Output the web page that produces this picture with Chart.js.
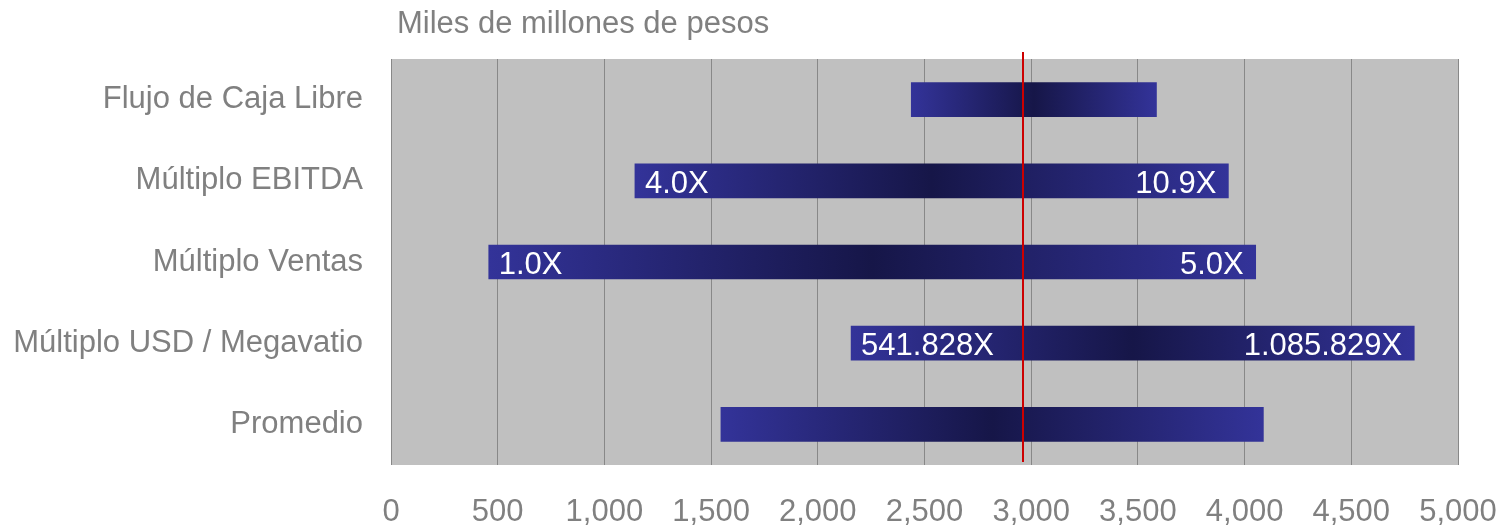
<!DOCTYPE html>
<html>
<head>
<meta charset="utf-8">
<script src="https://cdn.jsdelivr.net/npm/chart.js@4.4.1/dist/chart.umd.min.js"></script>
<style>
  html, body { margin: 0; padding: 0; background: #fff; }
  #wrap { width: 1503px; height: 528px; position: relative; }
</style>
</head>
<body>
<div id="wrap"><canvas id="chart"></canvas></div>
<script>
// data
const categories = ['Flujo de Caja Libre', 'Múltiplo EBITDA', 'Múltiplo Ventas', 'Múltiplo USD / Megavatio', 'Promedio'];
const lowValues  = [2438, 1143, 458, 2156, 1546];
const highValues = [3587, 3924, 4052, 4795, 4088];
const lowLabels  = ['', '4.0X', '1.0X', '541.828X', ''];
const highLabels = ['', '10.9X', '5.0X', '1.085.829X', ''];
const referenceValue = [2960];
const xTicks = [0, 500, 1000, 1500, 2000, 2500, 3000, 3500, 4000, 4500, 5000];
const chartTitle = 'Miles de millones de pesos';

const FONT = '"Liberation Sans", Arial, Helvetica, sans-serif';
const GREY = '#808080';

Chart.defaults.font.family = FONT;
Chart.defaults.font.size = 31;
Chart.defaults.color = GREY;

function barGradient(ctx) {
    const chart = ctx.chart;
    const x = chart.scales && chart.scales.x;
    if (!x || !ctx.raw) return '#333399';
    const a = x.getPixelForValue(ctx.raw[0]);
    const b = x.getPixelForValue(ctx.raw[1]);
    if (!isFinite(a) || !isFinite(b) || a === b) return '#333399';
    const g = chart.ctx.createLinearGradient(a, 0, b, 0);
    g.addColorStop(0, '#333399');
    g.addColorStop(0.5, '#161648');
    g.addColorStop(1, '#333399');
    return g;
}

const plotBackground = {
    id: 'plotBackground',
    beforeDraw(chart) {
        const { ctx, chartArea: a } = chart;
        ctx.save();
        ctx.fillStyle = '#C0C0C0';
        ctx.fillRect(a.left, a.top, a.right - a.left, a.bottom - a.top);
        ctx.restore();
    }
};

const extras = {
    id: 'extras',
    afterDatasetsDraw(chart) {
        const { ctx, chartArea: a } = chart;
        const x = chart.scales.x;
        const meta = chart.getDatasetMeta(0);

        // red reference line
        ctx.save();
        ctx.strokeStyle = '#CC0000';
        ctx.lineWidth = 2;
        referenceValue.forEach(v => {
            const px = Math.round(x.getPixelForValue(v));
            ctx.beginPath();
            ctx.moveTo(px, a.top - 7);
            ctx.lineTo(px, a.bottom - 3);
            ctx.stroke();
        });
        ctx.restore();

        // labels inside bars
        ctx.save();
        ctx.fillStyle = '#FFFFFF';
        ctx.font = '31px ' + FONT;
        ctx.textBaseline = 'alphabetic';
        meta.data.forEach((bar, i) => {
            const left = x.getPixelForValue(lowValues[i]);
            const right = x.getPixelForValue(highValues[i]);
            const y = bar.y + 12;
            if (lowLabels[i]) {
                ctx.textAlign = 'left';
                ctx.fillText(lowLabels[i], left + 10, y);
            }
            if (highLabels[i]) {
                ctx.textAlign = 'right';
                ctx.fillText(highLabels[i], right - 12, y);
            }
        });
        ctx.restore();

        // title
        ctx.save();
        ctx.fillStyle = GREY;
        ctx.font = '31px ' + FONT;
        ctx.textAlign = 'left';
        ctx.textBaseline = 'alphabetic';
        ctx.fillText(chartTitle, a.left + 6, 33);
        ctx.restore();
    }
};

new Chart(document.getElementById('chart'), {
    type: 'bar',
    data: {
        labels: categories,
        datasets: [{
            data: categories.map((c, i) => [lowValues[i], highValues[i]]),
            backgroundColor: barGradient,
            borderWidth: 0,
            borderSkipped: false,
            barThickness: 34
        }]
    },
    options: {
        indexAxis: 'y',
        responsive: true,
        maintainAspectRatio: false,
        animation: false,
        layout: { padding: { top: 59, right: 45, left: 0, bottom: 0 } },
        plugins: {
            legend: { display: false },
            tooltip: { enabled: false },
            title: { display: false }
        },
        scales: {
            x: {
                min: 0,
                max: 5000,
                afterBuildTicks(scale) {
                    scale.ticks = xTicks.map(v => ({ value: v }));
                },
                afterFit(scale) {
                    scale.height = 63;
                    scale.paddingLeft = 0;
                    scale.paddingRight = 0;
                },
                grid: { color: '#888888', lineWidth: 1, drawTicks: false },
                border: { display: false },
                ticks: {
                    padding: 29,
                    color: GREY,
                    maxRotation: 0,
                    callback: v => v.toLocaleString('en-US')
                }
            },
            y: {
                afterFit(scale) { scale.width = 391; },
                grid: { display: false },
                border: { display: false },
                ticks: { padding: 20, color: GREY }
            }
        }
    },
    plugins: [plotBackground, extras]
});
</script>
</body>
</html>
